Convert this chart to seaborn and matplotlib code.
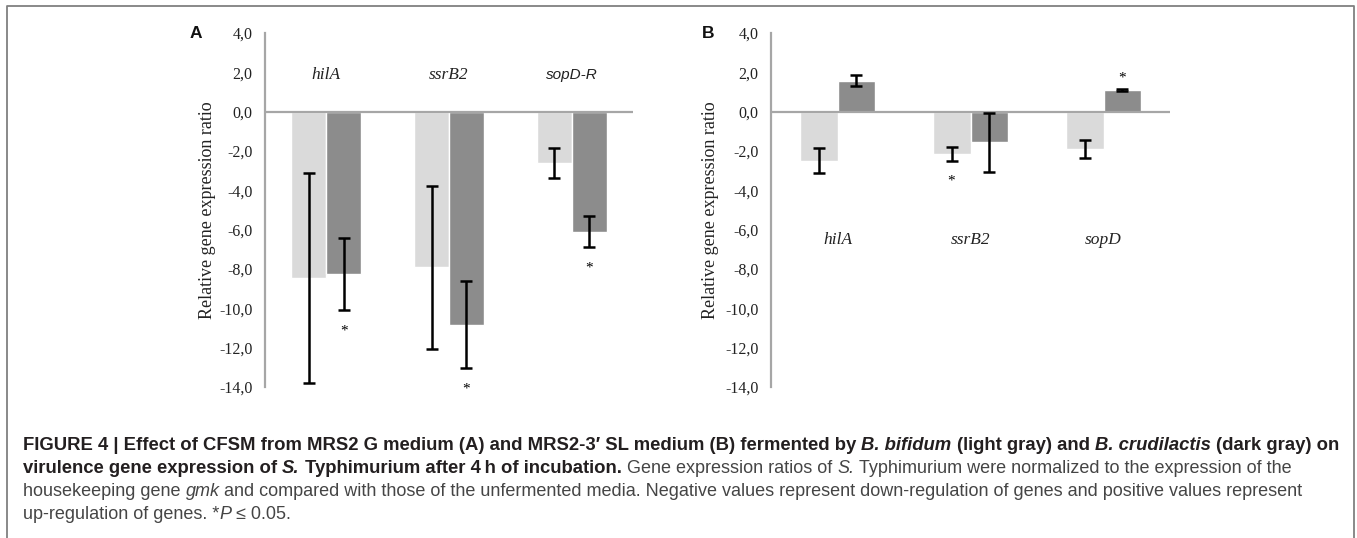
import numpy as np
import pandas as pd
import seaborn as sns
import matplotlib
matplotlib.use('Agg')
import matplotlib.pyplot as plt
from matplotlib.lines import Line2D

# data
genes_a=['hilA','ssrB2','sopD-R']
genes_b=['hilA','ssrB2','sopD']
strains=['B. bifidum','B. crudilactis']
bifidum_a=[-8.47,-7.92,-2.60]
crudilactis_a=[-8.27,-10.83,-6.11]
bifidum_a_err=[5.35,4.16,0.76]
crudilactis_a_err=[1.83,2.22,0.78]
bifidum_b=[-2.49,-2.15,-1.90]
crudilactis_b=[1.58,-1.56,1.12]
bifidum_b_err=[0.65,0.34,0.47]
crudilactis_b_err=[0.30,1.50,0.05]
#significance marks (strain index, gene index)
signif_a=[(1,0),(1,1),(1,2)]
signif_b=[(0,1),(1,2)]
yticks=np.arange(-14,4.1,2)

sns.set_theme(style='white')
plt.rcParams['font.family']=['Liberation Serif','DejaVu Serif']

light='#dadada'
dark='#8c8c8c'
axis_gray='#a6a6a6'

fig=plt.figure(figsize=(13.57,5.38),dpi=100)
ax_a=fig.add_axes([265/1357,1-387/538,368/1357,354/538])
ax_b=fig.add_axes([771/1357,1-387/538,399/1357,354/538])

def make_df(genes,v1,v2):
    return pd.DataFrame({'gene':genes*2,
                         'strain':[strains[0]]*3+[strains[1]]*3,
                         'value':v1+v2})

def draw_panel(ax,genes,v1,v2,e1,e2,signif,letter,label_y,label_fonts,ylab_x):
    df=make_df(genes,v1,v2)
    sns.barplot(data=df,x='gene',y='value',hue='strain',order=genes,hue_order=strains,
                palette=[light,dark],width=0.57,gap=0,errorbar=None,legend=False,
                saturation=1,ax=ax)
    errs=[e1,e2]
    vals=[v1,v2]
    bar_conts=list(ax.containers)
    for h,cont in enumerate(bar_conts):
        xs=[p.get_x()+p.get_width()/2 for p in cont.patches]
        ax.errorbar(xs,vals[h],yerr=errs[h],fmt='none',ecolor='black',
                    elinewidth=1.8,capsize=4,capthick=1.8,zorder=5)
        for h2,g in signif:
            if h2!=h:
                continue
            v=vals[h][g]
            if v<0:
                ax.text(xs[g],v-errs[h][g]-1.05,'*',ha='center',va='center',fontsize=11,color='black')
            else:
                ax.text(xs[g],v+errs[h][g]+0.55,'*',ha='center',va='center',fontsize=11,color='black')
    ax.axhline(0,color=axis_gray,lw=1.6,zorder=1)
    ax.set_ylim(-14,4)
    ax.set_xlim(-0.5,2.5)
    ax.set_yticks(yticks)
    ax.set_yticklabels([('%.1f'%t).replace('.',',') for t in yticks],fontsize=11.5,color='#222222')
    ax.tick_params(axis='y',length=0,pad=9)
    ax.set_xticks([])
    ax.set_xlabel('')
    ax.set_ylabel('Relative gene expression ratio',fontsize=13,color='#222222')
    ax.yaxis.set_label_coords(ylab_x,0.5)
    for s in ['top','right','bottom']:
        ax.spines[s].set_visible(False)
    ax.spines['left'].set_color(axis_gray)
    ax.spines['left'].set_linewidth(1.6)
    for i,g in enumerate(genes):
        fam,fs=label_fonts[i]
        ax.text(i,label_y,g,ha='center',va='center',style='italic',family=fam,fontsize=fs,color='#222222')
    ax.text(-0.187 if letter=='A' else -0.158,1.0,letter,transform=ax.transAxes,ha='center',va='center',
            fontsize=12.5,fontweight='bold',family='Liberation Sans',color='#111111')

draw_panel(ax_a,genes_a,bifidum_a,crudilactis_a,bifidum_a_err,crudilactis_a_err,signif_a,'A',1.87,
           [('Liberation Serif',12.5),('Liberation Serif',12.5),('Liberation Sans',11)],-0.133)
draw_panel(ax_b,genes_b,bifidum_b,crudilactis_b,bifidum_b_err,crudilactis_b_err,signif_b,'B',-6.55,
           [('Liberation Serif',12.5),('Liberation Serif',12.5),('Liberation Serif',12.5)],-0.130)

# frame round the figure
W,H=1357,538
frame_col='#808080'
fig.add_artist(Line2D([7/W,7/W,1354/W,1354/W],[0,1-6/H,1-6/H,0],color=frame_col,lw=1.3,
                      transform=fig.transFigure))

# caption with mixed styles
renderer=fig.canvas.get_renderer()
cap_fam=['Liberation Sans','DejaVu Sans']
bold_col='#231f20'
reg_col='#454545'
caption=[
    [('FIGURE 4 | Effect of CFSM from MRS2 G medium (A) and MRS2-3\u2032 SL medium (B) fermented by ','bold','normal'),
     ('B. bifidum','bold','italic'),(' (light gray) and ','bold','normal'),
     ('B. crudilactis','bold','italic'),(' (dark gray) on','bold','normal')],
    [('virulence gene expression of ','bold','normal'),('S.','bold','italic'),
     (' Typhimurium after 4\u2009h of incubation.','bold','normal'),
     (' Gene expression ratios of ','normal','normal'),('S.','normal','italic'),
     (' Typhimurium were normalized to the expression of the','normal','normal')],
    [('housekeeping gene ','normal','normal'),('gmk','normal','italic'),
     (' and compared with those of the unfermented media. Negative values represent down-regulation of genes and positive values represent','normal','normal')],
    [('up-regulation of genes. *','normal','normal'),('P','normal','italic'),(' \u2264 0.05.','normal','normal')],
]
line_y=[450,473,496,519]

def cap_size(weight):
    return 13.3 if weight=='bold' else 13.0

def advance(txt,weight,style):
    # advance width measured between two bar glyphs
    fs=cap_size(weight)
    t1=fig.text(0,0,'|'+txt+'|',fontsize=fs,fontweight=weight,style=style,family=cap_fam)
    t2=fig.text(0,0,'||',fontsize=fs,fontweight=weight,style=style,family=cap_fam)
    w=t1.get_window_extent(renderer).width-t2.get_window_extent(renderer).width
    t1.remove();t2.remove()
    return w

for line,yy in zip(caption,line_y):
    x=23
    for txt,weight,style in line:
        col=bold_col if weight=='bold' else reg_col
        lead=len(txt)-len(txt.lstrip(' '))
        if lead:
            x+=advance(txt[:lead],weight,style)
        fig.text(x/W,1-yy/H,txt.lstrip(' '),fontsize=cap_size(weight),fontweight=weight,style=style,
                 color=col,family=cap_fam,ha='left',va='baseline')
        x+=advance(txt.lstrip(' '),weight,style)

fig.savefig('out.png',dpi=100)
